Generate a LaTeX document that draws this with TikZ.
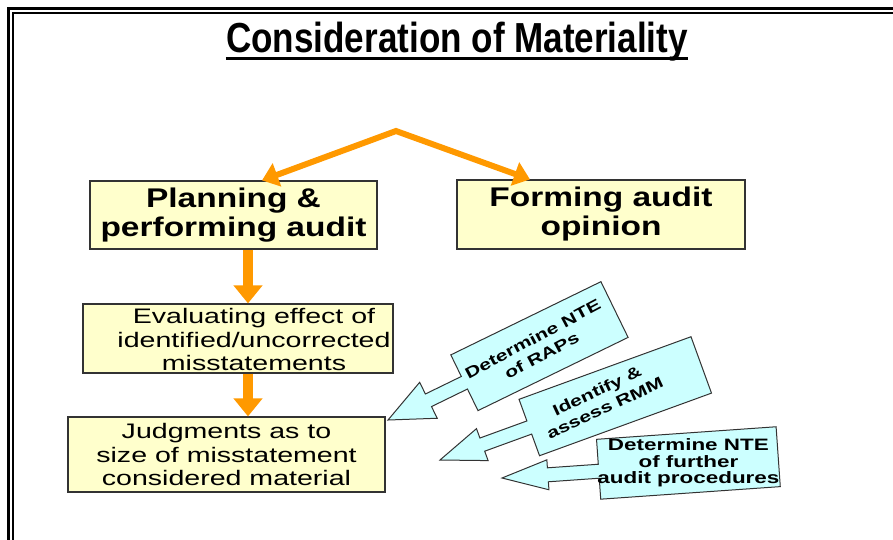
\documentclass[tikz,border=0pt]{standalone}
\usepackage{fontspec}
\setmainfont[FakeStretch=1.36]{Liberation Sans}
\newfontfamily\headfont[FakeStretch=1.24]{Liberation Sans}
\newfontfamily\titlefont[FakeStretch=0.835]{Liberation Sans}
\usetikzlibrary{arrows.meta,positioning}

\definecolor{boxyellow}{HTML}{FFFFCC}
\definecolor{arroworange}{HTML}{FF9900}
\definecolor{calloutcyan}{HTML}{CCFFFF}
\definecolor{edgegray}{HTML}{333333}

\tikzset{
  stagebox/.style={draw=edgegray, line width=1.2pt, fill=boxyellow, align=center, inner sep=0pt},
  boldtext/.style={font=\headfont\bfseries\fontsize{27}{29}\selectfont},
  plaintext/.style={font=\fontsize{21}{23.5}\selectfont, align=center, inner sep=0pt},
  splitarrow/.style={draw=arroworange, line width=6pt, line join=miter,
    {Triangle[width=24pt,length=16pt]}-{Triangle[width=24pt,length=16pt]}},
  downarrow/.style={draw=arroworange, line width=10pt, -{Triangle[width=28pt,length=18pt]}},
  calloutshape/.style={draw=edgegray, line width=1pt, fill=calloutcyan, line join=miter},
  callouttext/.style={font=\bfseries\fontsize{15.5}{19}\selectfont, align=center, inner sep=0pt}
}

\begin{document}
\begin{tikzpicture}[x=1pt, y=-1pt]
	\useasboundingbox (0,0) rectangle (893,539);

	%Draws the double frame round the slide
	\draw[line width=2.7pt] (8.7,545) -- (8.7,8.7) -- (900,8.7);
	\draw[line width=2pt] (13,545) -- (13,12.7) -- (900,12.7);

	%Title with its underline
	\node[font=\titlefont\bfseries\fontsize{42}{44}\selectfont, inner sep=0pt, anchor=base] (title) at (457,52) {Consideration of Materiality};
	\draw[line width=3pt] ([yshift=-6.5pt]title.base west) -- ([yshift=-6.5pt]title.base east);

	%The two stages
	\node[stagebox, boldtext, minimum width=287pt, minimum height=68pt] (plan) at (233.5,215) {Planning \&\\performing audit};
	\node[stagebox, boldtext, minimum width=288pt, minimum height=69pt] (opinion) at (601,214.5) {Forming audit\\opinion};

	%Evaluation and judgment boxes
	\node[stagebox, minimum width=310pt, minimum height=69pt] (evaluate) at (238,338.5) {};
	\node[plaintext] (evaluatetext) at ([xshift=16pt, yshift=-1pt]evaluate.center) {Evaluating effect of\\identified/uncorrected\\misstatements};
	\node[stagebox, plaintext, minimum width=317pt, minimum height=75pt] (judge) at (226.5,454.5) {Judgments as to\\size of misstatement\\considered material};

	%Orange arrows
	\coordinate (split) at (396,131);
	\draw[splitarrow] ([xshift=28.5pt]plan.north) -- (split) -- ([xshift=-71pt]opinion.north);
	\draw[downarrow] ([xshift=14.5pt]plan.south) -- ([xshift=10pt]evaluate.north);
	\draw[downarrow] ([xshift=10pt]evaluate.south) -- ([xshift=21.5pt]judge.north);

	%Callout arrows pointing back at the judgments
	\begin{scope}[shift={(388,420)}, rotate=26]
		\draw[calloutshape] (0,0) -- (45,-20) -- (45,-7) -- (85,-7) -- (85,-31) -- (252,-31)
			-- (252,31) -- (85,31) -- (85,7) -- (45,7) -- (45,20) -- cycle;
		\node[callouttext, rotate=28] (raps) at (166,0) {Determine NTE\\of RAPs};
	\end{scope}

	\begin{scope}[shift={(440,460)}, rotate=20]
		\draw[calloutshape] (0,0) -- (45,-17) -- (45,-7) -- (95,-7) -- (95,-30) -- (278,-30)
			-- (278,30) -- (95,30) -- (95,7) -- (45,7) -- (45,17) -- cycle;
		\node[callouttext, rotate=25] (rmm) at (172,-2) {Identify \&\\assess RMM};
	\end{scope}

	\begin{scope}[shift={(502,478)}, rotate=4]
		\draw[calloutshape] (0,0) -- (46,-15) -- (46,-7) -- (97,-7) -- (97,-32) -- (277,-32)
			-- (277,28) -- (97,28) -- (97,7) -- (46,7) -- (46,15) -- cycle;
		\node[callouttext, font=\bfseries\fontsize{16.5}{16.5}\selectfont] (procedures) at (187,-2) {Determine NTE\\of further\\audit procedures};
	\end{scope}
\end{tikzpicture}
\end{document}
